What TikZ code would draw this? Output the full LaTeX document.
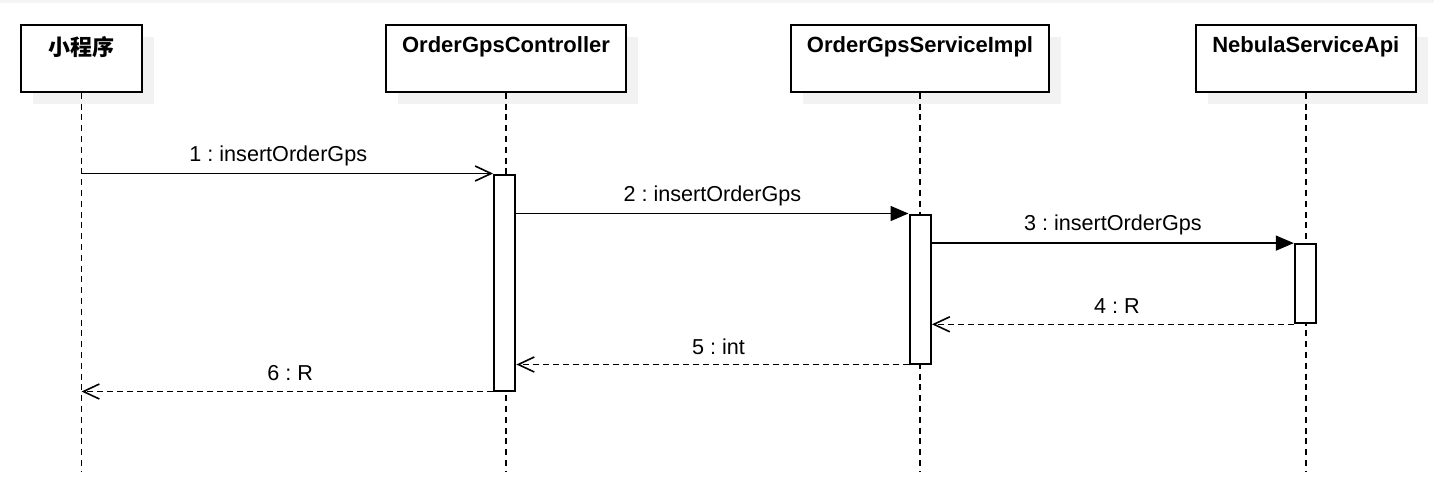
\documentclass[tikz,border=0pt]{standalone}
\usepackage{fontspec}
\setmainfont{Liberation Sans}
\newfontfamily\cjk{Noto Sans CJK SC}
\usetikzlibrary{arrows.meta,shadows}
\frenchspacing
\tikzset{
  partbox/.style={draw, line width=1pt, fill=white, minimum height=33.2pt, inner sep=0pt,
    drop shadow={shadow xshift=6pt, shadow yshift=-6pt, fill=black!5, opacity=1}},
  parttitle/.style={font=\fontsize{11}{13}\selectfont\bfseries, inner sep=0pt},
  actbox/.style={draw, line width=1pt, fill=white, minimum width=10.7pt, inner sep=0pt},
  lifeline/.style={line width=0.8pt, dash pattern=on 3pt off 2.4pt},
  callmsg/.style={line width=0.8pt, -{Triangle[length=9pt,width=7.5pt]}},
  syncmsg/.style={line width=0.8pt, -{Straight Barb[length=8pt,width=7.5pt]}},
  replymsg/.style={line width=0.8pt, dash pattern=on 3pt off 2pt, -{Straight Barb[length=8pt,width=7.5pt]}},
  msglabel/.style={midway, yshift=9pt, inner sep=0pt}
}
\begin{document}
\begin{tikzpicture}[x=0.5pt,y=-0.5pt,font=\fontsize{10.8}{13}\selectfont]
\useasboundingbox (0,0) rectangle (1434,494);
\fill[black!4] (0,0) rectangle (1434,3);
\node[partbox, minimum width=60.6pt] (app) at (81.5,58.5) {};
\node[partbox, minimum width=120pt] (ctrl) at (506,58.5) {};
\node[partbox, minimum width=129.3pt] (impl) at (920,58.5) {};
\node[partbox, minimum width=109.7pt] (api) at (1305.8,58.5) {};
\node[parttitle] (apptitle) at (81.5,47) {\cjk\bfseries 小程序};
\node[parttitle] (ctrltitle) at (506,47) {OrderGpsController};
\node[parttitle] (impltitle) at (920,47) {OrderGpsServiceImpl};
\node[parttitle] (apititle) at (1305.8,47) {NebulaServiceApi};
\coordinate (append) at (81.5,472);
\coordinate (ctrlend) at (506,472);
\coordinate (implend) at (920,472);
\coordinate (apiend) at (1305.8,472);
\draw[lifeline] (app.south) -- (append);
\draw[lifeline] (ctrl.south) -- (ctrlend);
\draw[lifeline] (impl.south) -- (implend);
\draw[lifeline] (api.south) -- (apiend);
\node[actbox, minimum height=108pt] (ctrlact) at (504.7,282.5) {};
\node[actbox, minimum height=74.5pt] (implact) at (920.2,289) {};
\node[actbox, minimum height=39.6pt] (apiact) at (1305.5,283.7) {};
\draw[syncmsg] (app.south |- ctrlact.north west) -- (ctrlact.north west)
  node[msglabel, xshift=-4.5pt] {1 : insertOrderGps};
\draw[callmsg] (ctrlact.east |- implact.north) -- (implact.north west)
  node[msglabel] {2 : insertOrderGps};
\draw[callmsg] (implact.east |- apiact.north) -- (apiact.north west)
  node[msglabel] {3 : insertOrderGps};
\draw[replymsg] (apiact.south west) -- (implact.east |- apiact.south)
  node[msglabel, xshift=2pt] {4 : R};
\draw[replymsg] (implact.south west) -- (ctrlact.east |- implact.south)
  node[msglabel, xshift=3pt] {5 : int};
\draw[replymsg] (ctrlact.south west) -- (app.south |- ctrlact.south)
  node[msglabel, xshift=1.5pt] {6 : R};
\end{tikzpicture}
\end{document}
